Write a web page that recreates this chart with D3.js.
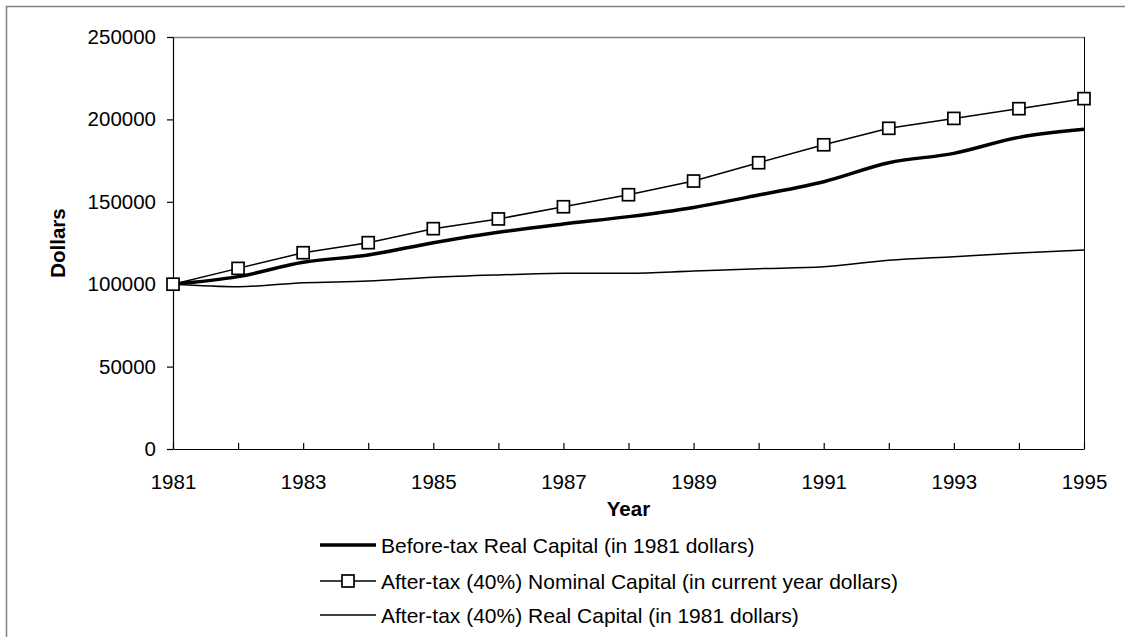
<!DOCTYPE html>
<html>
  <head>
    <script src="https://d3js.org/d3.v7.min.js"></script>
      <style>
        body { margin:0; background:#fff; }
        text { font-family:"Liberation Sans", Arial, sans-serif; fill:#000; }
      </style>
  </head>
  <body>
      <script>
            // chart values
            let years = [1981, 1982, 1983, 1984, 1985, 1986, 1987, 1988, 1989, 1990, 1991, 1992, 1993, 1994, 1995];
            let beforeTaxReal = [100000, 104600, 113300, 117700, 125200, 131500, 136500, 141000, 146600, 154100, 162200, 173700, 179400, 189100, 194000];
            let afterTaxNominal = [100000, 109600, 119100, 125200, 133700, 139600, 147000, 154300, 162600, 173700, 184600, 194600, 200600, 206500, 212600];
            let afterTaxReal = [100000, 98500, 100900, 101900, 104200, 105600, 106600, 106600, 108000, 109400, 110600, 114500, 116700, 118900, 120700];
            let yTicks = [0, 50000, 100000, 150000, 200000, 250000];
            let seriesNames = ["Before-tax Real Capital (in 1981 dollars)",
                               "After-tax (40%) Nominal Capital (in current year dollars)",
                               "After-tax (40%) Real Capital (in 1981 dollars)"];

            let width = 1125; let height = 637;
            let plotLeft = 173, plotRight = 1084, plotTop = 37, plotBottom = 449;

            let svg = d3.select("body").append("svg")
                .attr("width", width).attr("height", height);

            // outer chart frame (runs off the right and bottom edge)
            svg.append("rect").attr("x", 6.5).attr("y", 6.5)
                .attr("width", width + 20).attr("height", height + 20)
                .attr("fill", "white").attr("stroke", "#808080").attr("stroke-width", 1.5);

            let x = d3.scaleLinear().domain([1981, 1995]).range([plotLeft, plotRight]);
            let y = d3.scaleLinear().domain([0, 250000]).range([plotBottom, plotTop]);

            // plot area top (grey) and right edge
            svg.append("line").attr("x1", plotLeft).attr("x2", plotRight).attr("y1", plotTop + 0.5).attr("y2", plotTop + 0.5)
                .attr("stroke", "#808080").attr("stroke-width", 1.5);
            svg.append("line").attr("x1", plotRight + 0.5).attr("x2", plotRight + 0.5).attr("y1", plotTop).attr("y2", plotBottom)
                .attr("stroke", "#000").attr("stroke-width", 1);

            let xAxis = d3.axisBottom(x).tickValues(years)
                .tickSizeInner(-6).tickSizeOuter(0).tickPadding(25)
                .tickFormat(function(d){ return d % 2 == 1 ? d : ""; });
            let gx = svg.append("g").attr("transform", "translate(0," + plotBottom + ")").call(xAxis);

            let yAxis = d3.axisLeft(y).tickValues(yTicks)
                .tickSizeInner(6).tickSizeOuter(0).tickPadding(11)
                .tickFormat(d3.format("d"));
            let gy = svg.append("g").attr("transform", "translate(" + plotLeft + ",0)").call(yAxis);

            [gx, gy].forEach(function(g){
                g.attr("font-family", null).attr("font-size", null);
                g.selectAll("text").style("font-size", "20.5px");
                g.selectAll("line, path").attr("stroke", "#000").attr("stroke-width", 1.2);
            });

            svg.append("text").attr("x", (plotLeft + plotRight) / 2).attr("y", 516)
                .attr("text-anchor", "middle").style("font-size", "20.5px").style("font-weight", "bold")
                .text("Year");
            svg.append("text").attr("transform", "translate(65," + (plotTop + plotBottom) / 2 + ") rotate(-90)")
                .attr("text-anchor", "middle").style("font-size", "20.5px").style("font-weight", "bold")
                .text("Dollars");

            function seriesLine(values, curve)
            {
                return d3.line()
                    .x(function(d, i){ return x(years[i]); })
                    .y(function(d){ return y(d); })
                    .curve(curve)(values);
            }

            svg.append("path").attr("d", seriesLine(afterTaxReal, d3.curveMonotoneX))
                .attr("fill", "none").attr("stroke", "#000").attr("stroke-width", 1.5);
            svg.append("path").attr("d", seriesLine(beforeTaxReal, d3.curveMonotoneX))
                .attr("fill", "none").attr("stroke", "#000").attr("stroke-width", 3.5);
            svg.append("path").attr("d", seriesLine(afterTaxNominal, d3.curveLinear))
                .attr("fill", "none").attr("stroke", "#000").attr("stroke-width", 1.5);

            let sq = 12;
            svg.selectAll("rect.marker").data(afterTaxNominal).enter().append("rect")
                .attr("class", "marker")
                .attr("x", function(d, i){ return x(years[i]) - sq / 2; })
                .attr("y", function(d){ return y(d) - sq / 2; })
                .attr("width", sq).attr("height", sq)
                .attr("fill", "white").attr("stroke", "#000").attr("stroke-width", 1.7);

            // legend
            let rowY = [545, 581, 615];
            let widths = [3.5, 1.5, 1.5];
            let legend = svg.append("g");
            seriesNames.forEach(function(name, i){
                legend.append("line").attr("x1", 320).attr("x2", 376).attr("y1", rowY[i]).attr("y2", rowY[i])
                    .attr("stroke", "#000").attr("stroke-width", widths[i]);
                if(i == 1)
                    {
                        legend.append("rect").attr("x", 348 - sq / 2).attr("y", rowY[i] - sq / 2)
                            .attr("width", sq).attr("height", sq)
                            .attr("fill", "white").attr("stroke", "#000").attr("stroke-width", 1.7);
                    }
                legend.append("text").attr("x", 381).attr("y", rowY[i]).attr("dy", "0.36em")
                    .style("font-size", "21px").text(name);
            });
      </script>
  </body>
</html>
